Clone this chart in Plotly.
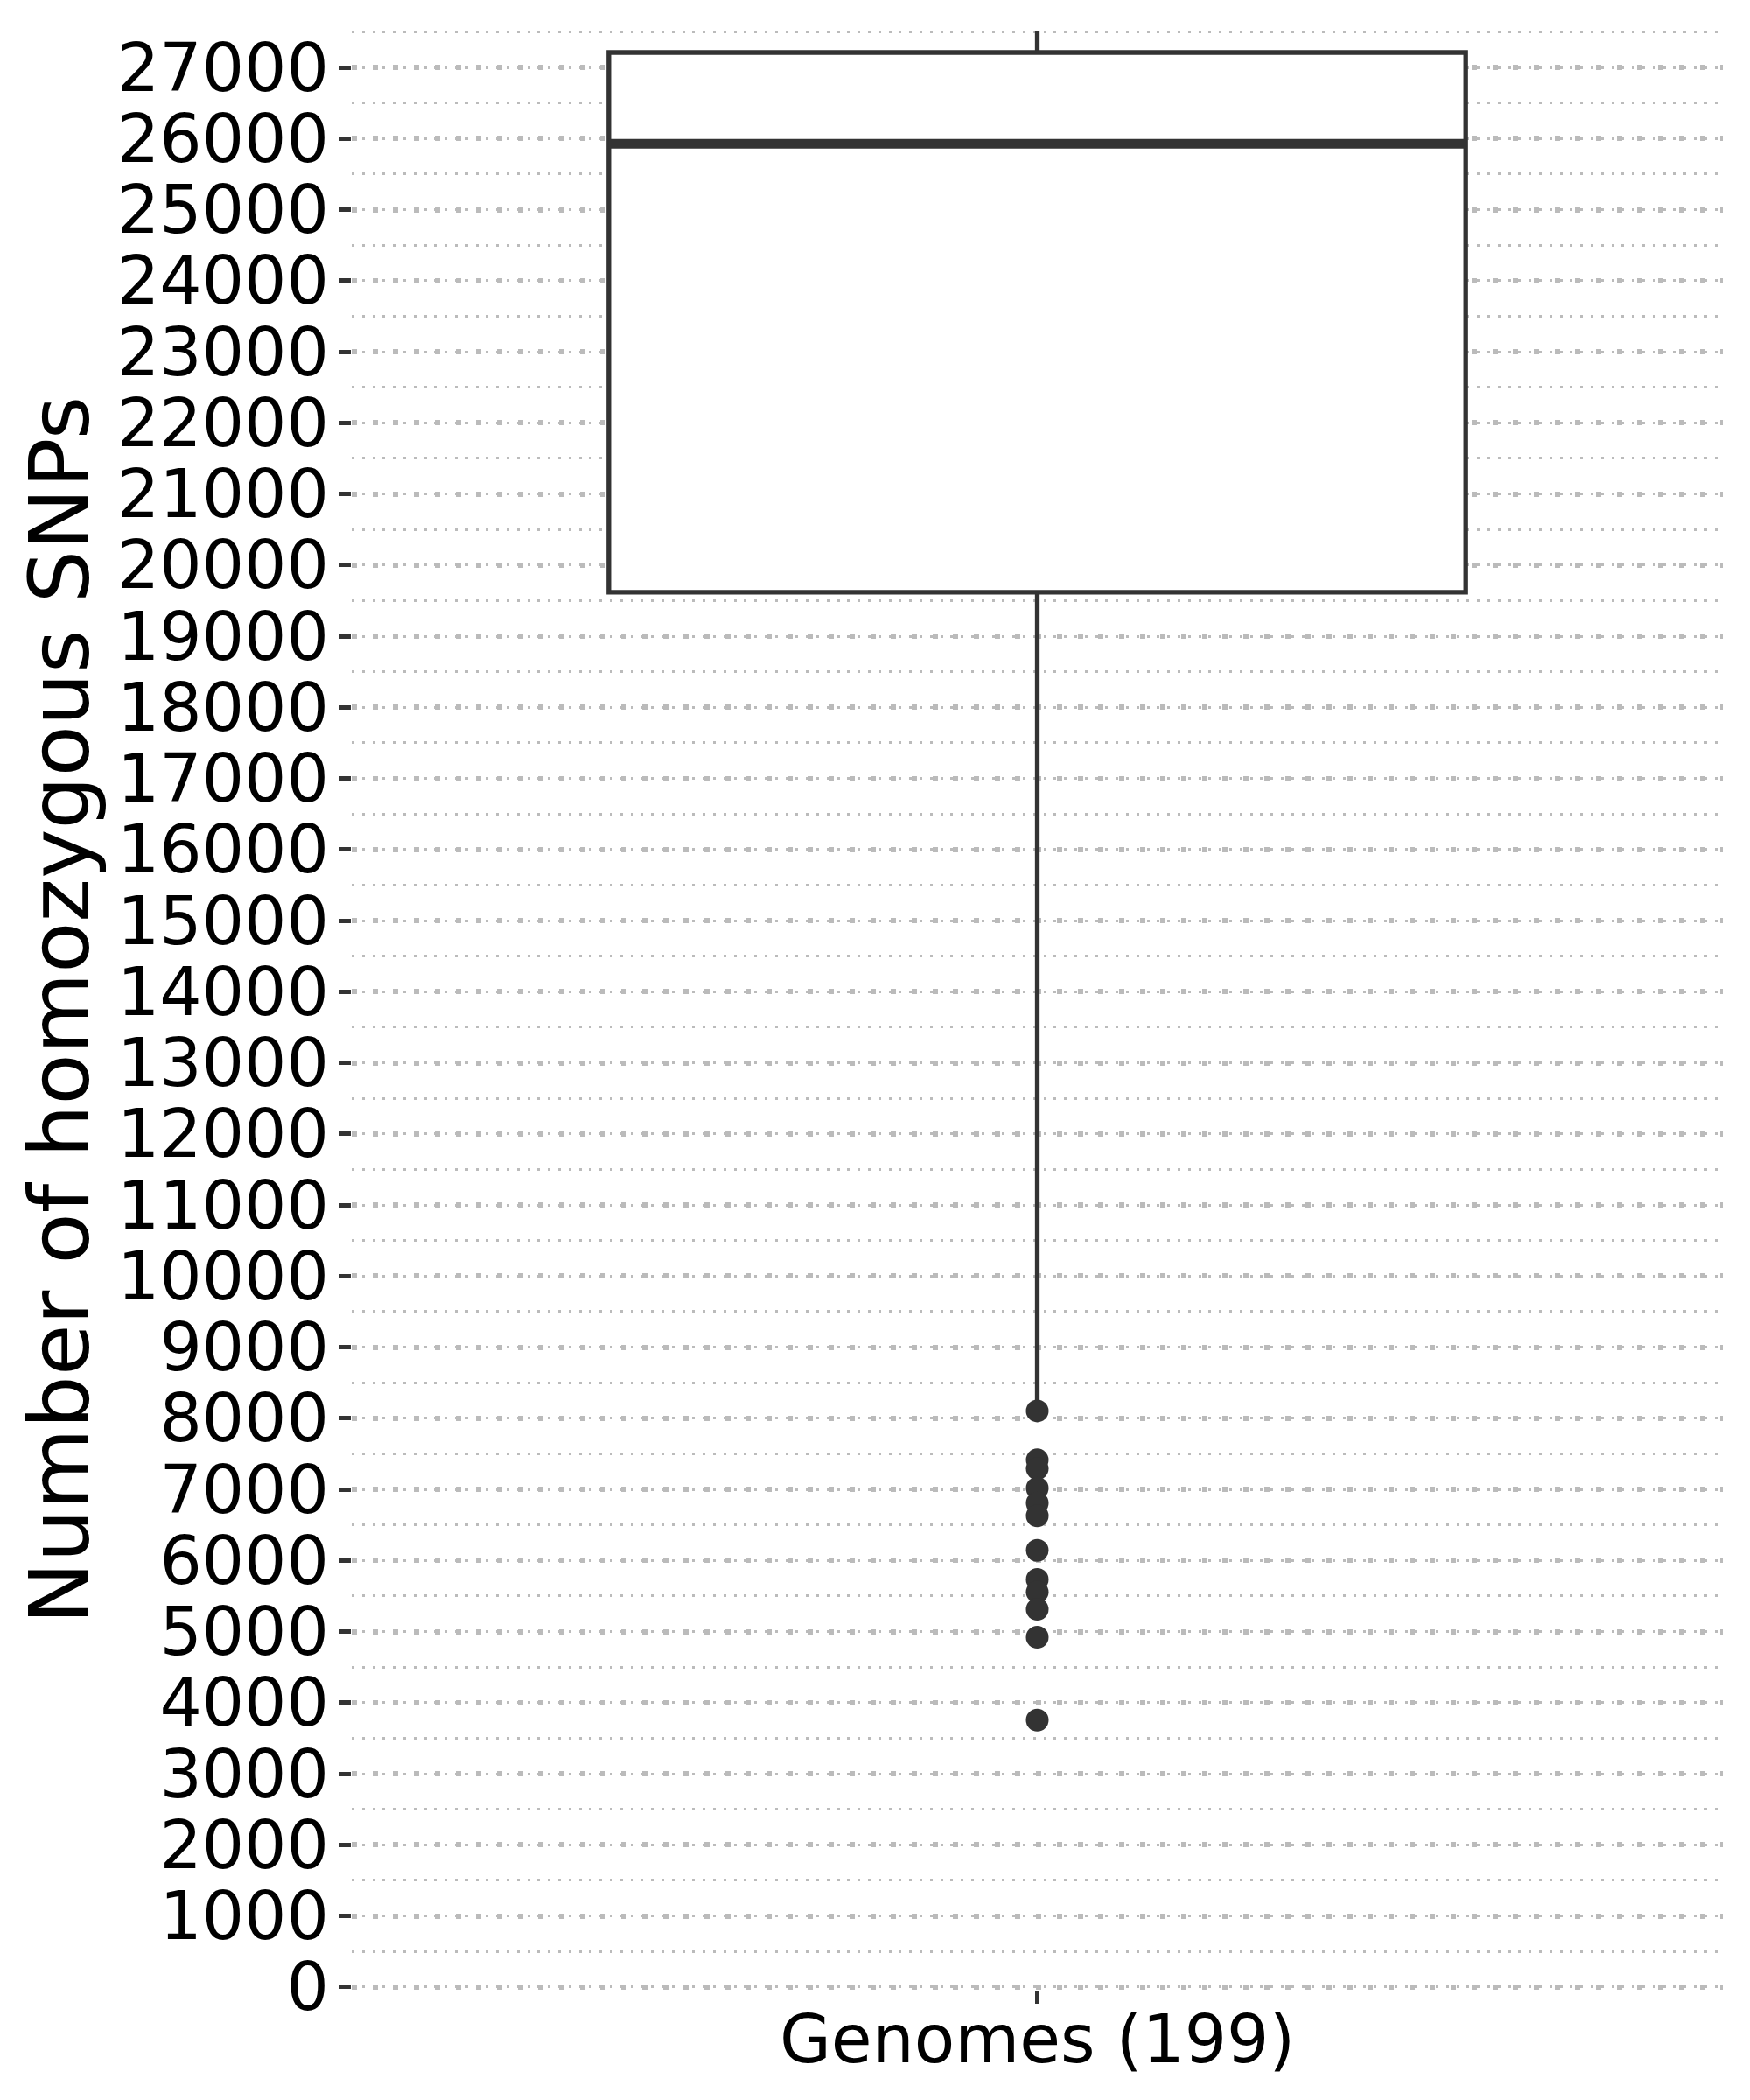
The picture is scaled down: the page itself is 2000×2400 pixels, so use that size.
import plotly.graph_objects as go

# ---- data ----
category = ["Genomes (199)"]
positions = [1]
q1 = [19618]
median = [25925]
q3 = [27209]
lower_whisker = [8250]
upper_whisker = [27517]
outliers = [8103, 7414, 7291, 7016, 6806, 6627, 6142, 5732, 5556, 5313, 4920, 3754]
y_ticks = list(range(0, 28000, 1000))
y_title = "Number of homozygous SNPs"

BOX_W = 0.75
DARK = "#333333"
GRID = "#BBBBBB"
FONT = "DejaVu Sans"

fig = go.Figure()

fig.add_trace(go.Box(
    x=positions,
    q1=q1, median=median, q3=q3,
    lowerfence=lower_whisker, upperfence=upper_whisker,
    width=BOX_W,
    whiskerwidth=0,
    fillcolor="white",
    line=dict(color=DARK, width=5.3),
    boxpoints=False,
    showlegend=False,
    hoverinfo="skip",
))

# thicker median line (ggplot fatten)
for p, m in zip(positions, median):
    fig.add_trace(go.Scatter(
        x=[p - BOX_W / 2, p + BOX_W / 2], y=[m, m],
        mode="lines", line=dict(color=DARK, width=11),
        showlegend=False, hoverinfo="skip",
    ))

fig.add_trace(go.Scatter(
    x=[positions[0]] * len(outliers), y=outliers,
    mode="markers",
    marker=dict(color=DARK, size=26, line=dict(width=0)),
    showlegend=False, hoverinfo="skip",
))

fig.update_layout(
    width=2000, height=2400,
    margin=dict(l=402, r=31, t=35, b=126),
    paper_bgcolor="white", plot_bgcolor="white",
    font=dict(family=FONT, color="black"),
)

fig.update_xaxes(
    range=[0.4, 1.6],
    tickmode="array", tickvals=positions, ticktext=category,
    tickfont=dict(size=76, family=FONT, color="black"),
    ticks="outside", ticklen=15, tickwidth=5.3, tickcolor=DARK,
    ticklabelstandoff=-24,
    showgrid=False, zeroline=False, showline=False,
    automargin=False,
)

fig.update_yaxes(
    range=[-40, 27517],
    tickmode="array", tickvals=y_ticks, ticktext=[str(v) for v in y_ticks],
    tickfont=dict(size=76, family=FONT, color="black"),
    ticks="outside", ticklen=14, tickwidth=5.3, tickcolor=DARK,
    ticklabelstandoff=-4,
    showgrid=True, gridcolor=GRID, gridwidth=6, griddash="6px,17.7px",
    minor=dict(dtick=500, tick0=0, showgrid=True, gridcolor=GRID,
               gridwidth=2.7, griddash="3px,8.8px", ticks=""),
    zeroline=False, showline=False,
    automargin=False,
    title=dict(text=y_title, font=dict(size=95, family=FONT, color="black"),
               standoff=0),
)

fig.write_html("out.html")
